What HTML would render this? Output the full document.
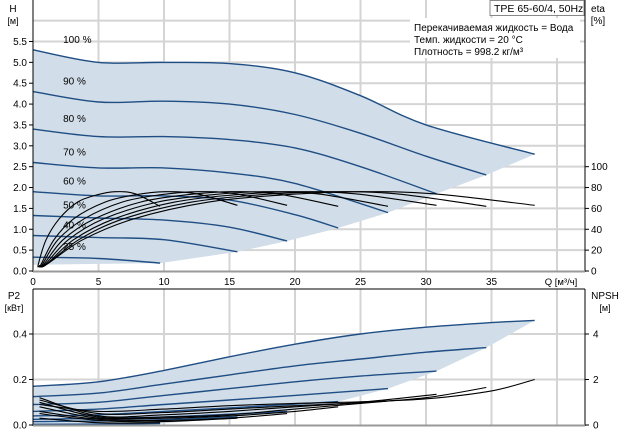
<!DOCTYPE html>
<html><head><meta charset="utf-8"><style>
body{margin:0;background:#fff;}
svg{display:block;font-family:"Liberation Sans","DejaVu Sans",sans-serif;}
</style></head><body>
<svg id="c" width="624" height="434" viewBox="0 0 624 434">
<g id="grid"></g>
<g id="fills"></g>
<g id="series"></g>
<g id="axes"></g>
<g>
<rect x="490" y="0.5" width="94" height="15" fill="#fff" stroke="#888"/>
<text x="494" y="12" font-size="10.5" fill="#000">TPE 65-60/4, 50Hz</text>
</g>
<g font-size="10" fill="#000">
<rect x="410" y="18" width="170" height="40" fill="#fff"/>
<text x="414" y="31">Перекачиваемая жидкость = Вода</text>
<text x="414" y="43">Темп. жидкости = 20 °C</text>
<text x="414" y="55">Плотность = 998.2 кг/м³</text>
</g>
</svg>
<script>
const speedLabels=["100 %","90 %","80 %","70 %","60 %","50 %","40 %","25 %"];
const hQ=[[0,5,10,15,20,25,30,38.3],[0,5,10,15,20,25,30,34.6],[0,5,10,15,20,25,30.8],[0,5,10,15,20,27.1],[0,5,10,15,20,23.3],[0,5,10,15,19.4],[0,5,10,15.6],[0,5,9.7]];
const hH=[[5.3,5.0,5.0,4.97,4.75,4.2,3.5,2.8],[4.3,4.05,4.07,4.0,3.75,3.3,2.75,2.3],[3.4,3.22,3.22,3.15,2.95,2.5,1.85],[2.6,2.47,2.47,2.35,2.1,1.4],[1.9,1.8,1.8,1.7,1.35,1.03],[1.33,1.27,1.22,1.05,0.72],[0.85,0.8,0.75,0.46],[0.33,0.3,0.19]];
const etaQ=[[1,3.8,7.7,13.4,19.2,24.9,30.6,38.3],[1,3.5,6.9,12.1,17.3,22.5,27.7,34.6],[1,3.1,6.2,10.8,15.4,20,24.6,30.8],[0.9,2.7,5.4,9.5,13.6,17.6,21.7,27.1],[0.8,2.3,4.7,8.2,11.7,15.1,18.6,23.3],[0.7,1.9,3.9,6.8,9.7,12.6,15.5,19.4],[0.6,1.6,3.1,5.5,7.8,10.1,12.5,15.6],[0.4,1,2,3.4,4.9,6.3,7.8,9.7]];
const etaV=[[6,30,50,66,73,76,74,63],[6,30,50,66,73,76,74,62],[6,30,50,66,73,76,74,63],[6,30,50,66,73,76,74,62],[6,30,50,66,73,76,74,62],[6,30,50,66,73,76,74,63],[6,30,50,66,73,76,74,63],[6,30,50,66,73,76,74,62]];
const pQ=[[0,5,10,15,20,25,30,35,38.3],[0,5,10,15,20,25,30,34.6],[0,5,10,15,20,25,30.8],[0,5,10,15,20,27.1],[0,5,10,15,23.3],[0,10,19.4],[0,8,15.6],[0,5,9.7]];
const pP=[[0.17,0.19,0.24,0.3,0.355,0.4,0.43,0.45,0.46],[0.125,0.14,0.18,0.22,0.26,0.29,0.32,0.34],[0.09,0.1,0.13,0.16,0.19,0.215,0.237],[0.06,0.07,0.09,0.11,0.13,0.16],[0.04,0.045,0.06,0.075,0.103],[0.025,0.035,0.06],[0.015,0.02,0.035],[0.003,0.004,0.006]];
const nQ=[[0.5,5,10,15,20,25,30,35,38.3],[0.5,5,10,15,20,25,30,34.6],[0.5,5,10,15,20,25,30.8],[0.5,5,10,15,20,27.1],[0.5,5,10,15,20,23.3],[0.5,5,10,15,19.4],[0.5,5,10,15.6],[0.5,5,9.7]];
const nV=[[0.9,0.6,0.7,0.85,0.95,1.02,1.15,1.5,2.0],[1.1,0.5,0.55,0.7,0.85,0.98,1.2,1.65],[1.2,0.4,0.45,0.6,0.8,1.0,1.35],[1.0,0.35,0.35,0.45,0.7,1.05],[0.8,0.3,0.3,0.4,0.6,0.8],[0.6,0.25,0.2,0.3,0.5],[0.5,0.2,0.15,0.3],[0.3,0.1,0.1]];
const qTicks=[0,5,10,15,20,25,30,35];
const hTicks=["0.0","0.5","1.0","1.5","2.0","2.5","3.0","3.5","4.0","4.5","5.0","5.5"];
const etaTicks=[0,20,40,60,80,100];
const pTicks=["0.0","0.2","0.4"];
const npshTicks=[0,2,4];

const NS="http://www.w3.org/2000/svg";
const X0=33,XR=585,PX=13.1;
const xQ=q=>X0+q*PX;
const yH=h=>271-h*41.73;
const yEta=e=>yH(e/40);
const yP=p=>425-p*227.5;
const yN=n=>yP(n/10);
function mk(par,tag,attrs){const e=document.createElementNS(NS,tag);for(const k in attrs)e.setAttribute(k,attrs[k]);document.getElementById(par).appendChild(e);return e;}
function spline(pts){let d="M"+pts[0][0].toFixed(1)+","+pts[0][1].toFixed(1);
for(let i=0;i<pts.length-1;i++){const p0=pts[Math.max(0,i-1)],p1=pts[i],p2=pts[i+1],p3=pts[Math.min(pts.length-1,i+2)];
const c1=[p1[0]+(p2[0]-p0[0])/6,p1[1]+(p2[1]-p0[1])/6],c2=[p2[0]-(p3[0]-p1[0])/6,p2[1]-(p3[1]-p1[1])/6];
d+="C"+c1.map(v=>v.toFixed(1))+" "+c2.map(v=>v.toFixed(1))+" "+p2.map(v=>v.toFixed(1));}return d;}

// grid
for(let q=5;q<=40;q+=5){let e=mk("grid","line",{x1:xQ(q),x2:xQ(q),y1:0,y2:271,stroke:"#d4d4d4","stroke-width":2});

e=mk("grid","line",{x1:xQ(q),x2:xQ(q),y1:289,y2:425,stroke:"#d4d4d4","stroke-width":2});
}
for(let i=1;i<=12;i++){const e=mk("grid","line",{x1:X0,x2:XR,y1:yH(i*0.5),y2:yH(i*0.5),stroke:"#d4d4d4","stroke-width":2});
}
for(let i=1;i<pTicks.length;i++){const v=parseFloat(pTicks[i]);const e=mk("grid","line",{x1:X0,x2:XR,y1:yP(v),y2:yP(v),stroke:"#d4d4d4","stroke-width":2});
}

// fills
{let top=hQ[0].map((q,i)=>[xQ(q),yH(hH[0][i])]);
let d=spline(top);
for(let k=1;k<hQ.length;k++){const n=hQ[k].length-1;d+="L"+xQ(hQ[k][n]).toFixed(1)+","+yH(hH[k][n]).toFixed(1);}
d+="L"+X0+","+yH(0.15)+"L"+X0+","+yH(hH[0][0])+"Z";
const e=mk("fills","path",{d:d,fill:"#d1dde8"});
let top2=pQ[0].map((q,i)=>[xQ(q),yP(pP[0][i])]);let d2=spline(top2);
for(let k=1;k<pQ.length;k++){const n=pQ[k].length-1;d2+="L"+xQ(pQ[k][n]).toFixed(1)+","+yP(pP[k][n]).toFixed(1);}
d2+="L"+X0+","+yP(0)+"L"+X0+","+yP(pP[0][0])+"Z";
const e2=mk("fills","path",{d:d2,fill:"#d1dde8"});}

// series
for(let k=0;k<hQ.length;k++){
let e=mk("series","path",{d:spline(hQ[k].map((q,i)=>[xQ(q),yH(hH[k][i])])),fill:"none",stroke:"#1f4e85","stroke-width":1.4});

e=mk("series","path",{d:spline(pQ[k].map((q,i)=>[xQ(q),yP(pP[k][i])])),fill:"none",stroke:"#1f4e85","stroke-width":1.4});

const t=mk("series","text",{x:xQ(2.3),y:yH(hH[k][0])-7,"font-size":10,fill:"#000"});t.textContent=speedLabels[k];
}
for(let k=0;k<etaQ.length;k++){
let pts=[[xQ(0.5),yEta(5)]].concat(etaQ[k].map((q,i)=>[xQ(q),yEta(etaV[k][i])]));
let e=mk("series","path",{d:spline(pts),fill:"none",stroke:"#000","stroke-width":1.1});

e=mk("series","path",{d:spline(nQ[k].map((q,i)=>[xQ(q),yN(nV[k][i])])),fill:"none",stroke:"#000","stroke-width":1.1});
}

// axes
function ln(a,n){const e=mk("axes","line",a);}
function tx(x,y,s,anchor,n,fs){const e=mk("axes","text",{x:x,y:y,"text-anchor":anchor,"font-size":fs||10,fill:"#000"});e.textContent=s;}
ln({x1:X0,x2:X0,y1:0,y2:272,stroke:"#000"},'h-axis-line');
ln({x1:XR,x2:XR,y1:0,y2:272,stroke:"#000"},'eta-axis-line');
ln({x1:X0,x2:XR,y1:271.5,y2:271.5,stroke:"#999","stroke-width":2},'q-axis-line');
ln({x1:X0,x2:XR,y1:289,y2:289,stroke:"#000"},'lower-top-border');
ln({x1:X0,x2:X0,y1:289,y2:426,stroke:"#000"},'p2-axis-line');
ln({x1:XR,x2:XR,y1:289,y2:426,stroke:"#000"},'npsh-axis-line');
ln({x1:X0,x2:XR,y1:425.5,y2:425.5,stroke:"#999","stroke-width":2},'lower-q-axis-line');
hTicks.forEach((s,i)=>{ln({x1:X0-4,x2:X0,y1:yH(parseFloat(s)),y2:yH(parseFloat(s)),stroke:"#000"},'h-tick');tx(X0-6,yH(parseFloat(s))+3.5,s,"end",'h-tick-label');});
etaTicks.forEach(v=>{ln({x1:XR,x2:XR+4,y1:yEta(v),y2:yEta(v),stroke:"#000"},'eta-tick');tx(XR+6,yEta(v)+3.5,String(v),"start",'eta-tick-label');});
qTicks.forEach(v=>tx(xQ(v),285,String(v),"middle",'q-tick-label'));
pTicks.forEach(s=>{ln({x1:X0-4,x2:X0,y1:yP(parseFloat(s)),y2:yP(parseFloat(s)),stroke:"#000"},'p2-tick');tx(X0-6,yP(parseFloat(s))+3.5,s,"end",'p2-tick-label');});
npshTicks.forEach(v=>{ln({x1:XR,x2:XR+4,y1:yN(v),y2:yN(v),stroke:"#000"},'npsh-tick');tx(XR+8,yN(v)+3.5,String(v),"start",'npsh-tick-label');});
tx(13,12,"H","middle",'h-axis-title');tx(13,24,"[м]","middle",'h-axis-unit',9);
tx(598,12,"eta","middle",'eta-axis-title');tx(598,24,"[%]","middle",'eta-axis-unit');
tx(561,285,"Q [м³/ч]","middle",'q-axis-title',9.5);
tx(14,299,"P2","middle",'p2-axis-title');tx(14,311,"[кВт]","middle",'p2-axis-unit',9);
tx(605,299,"NPSH","middle",'npsh-axis-title');tx(605,311,"[м]","middle",'npsh-axis-unit',9);
</script>
</body></html>
